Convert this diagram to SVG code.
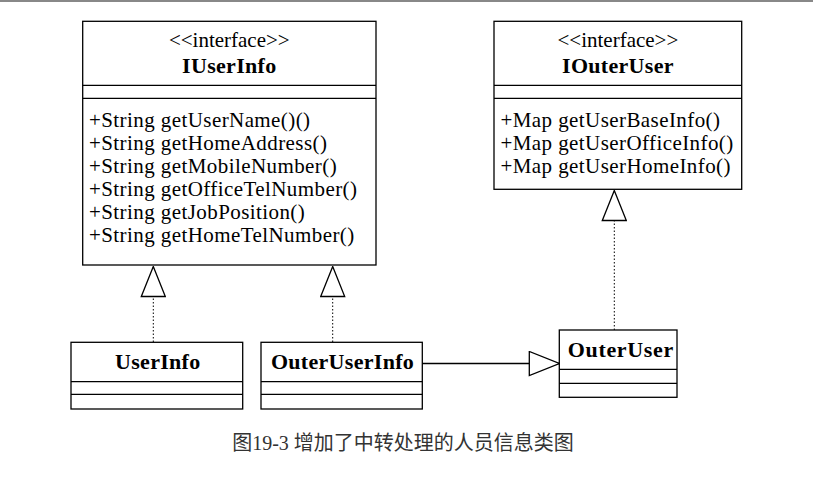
<svg xmlns="http://www.w3.org/2000/svg" width="813" height="483" viewBox="0 0 813 483">
<style>
.box{fill:#fff;stroke:#000;stroke-width:1.3}
.sep{stroke:#000;stroke-width:1.3}
.st{font-family:"Liberation Serif","Times New Roman",serif;font-size:21px;fill:#000;text-anchor:middle}
.nm{font-family:"Liberation Serif","Times New Roman",serif;font-size:22px;font-weight:bold;fill:#000;text-anchor:middle;letter-spacing:0.3px}
.m{font-family:"Liberation Serif","Times New Roman",serif;font-size:21px;fill:#000;letter-spacing:0.42px}
.dot{fill:none;stroke:#000;stroke-width:1;stroke-dasharray:1.5 2}
.sol{fill:none;stroke:#000;stroke-width:1.3}
.cap{font-family:"Liberation Serif","Noto Sans CJK SC",serif;font-size:20px;fill:#333;text-anchor:middle}
</style>
<defs>
<marker id="tri" markerUnits="userSpaceOnUse" viewBox="-1 -1 32 26" refX="30" refY="12" markerWidth="32" markerHeight="26" orient="auto">
<path d="M0,0 L30,12 L0,24 Z" fill="#fff" stroke="#000" stroke-width="1.3"/>
</marker>
</defs>
<rect x="0" y="0" width="813" height="2" fill="#888"/>
<g id="IUserInfo">
<rect class="box" x="82.7" y="21.3" width="293.3" height="243.7"/>
<line class="sep" x1="82.7" y1="85.3" x2="376" y2="85.3"/>
<line class="sep" x1="82.7" y1="98.3" x2="376" y2="98.3"/>
<text class="st" x="229.3" y="47">&lt;&lt;interface&gt;&gt;</text>
<text class="nm" x="229.3" y="73.3">IUserInfo</text>
<text class="m" x="89" y="127">+String getUserName()()</text>
<text class="m" x="89" y="150">+String getHomeAddress()</text>
<text class="m" x="89" y="173">+String getMobileNumber()</text>
<text class="m" x="89" y="196">+String getOfficeTelNumber()</text>
<text class="m" x="89" y="219">+String getJobPosition()</text>
<text class="m" x="89" y="242">+String getHomeTelNumber()</text>
</g>
<g id="IOuterUser">
<rect class="box" x="494" y="21.3" width="247.7" height="168"/>
<line class="sep" x1="494" y1="85.3" x2="741.7" y2="85.3"/>
<line class="sep" x1="494" y1="98.3" x2="741.7" y2="98.3"/>
<text class="st" x="617.9" y="47">&lt;&lt;interface&gt;&gt;</text>
<text class="nm" x="617.9" y="73.3">IOuterUser</text>
<text class="m" x="500.5" y="127">+Map getUserBaseInfo()</text>
<text class="m" x="500.5" y="150">+Map getUserOfficeInfo()</text>
<text class="m" x="500.5" y="173">+Map getUserHomeInfo()</text>
</g>
<g id="UserInfo">
<rect class="box" x="71" y="342.3" width="171.7" height="66.7"/>
<line class="sep" x1="71" y1="381.7" x2="242.7" y2="381.7"/>
<line class="sep" x1="71" y1="394.3" x2="242.7" y2="394.3"/>
<text class="nm" x="157.8" y="369.3">UserInfo</text>
</g>
<g id="OuterUserInfo">
<rect class="box" x="261" y="342.3" width="161.3" height="66.7"/>
<line class="sep" x1="261" y1="381.7" x2="422.3" y2="381.7"/>
<line class="sep" x1="261" y1="394.3" x2="422.3" y2="394.3"/>
<text class="nm" x="342.5" y="369.3">OuterUserInfo</text>
</g>
<g id="OuterUser">
<rect class="box" x="559.3" y="330" width="117.7" height="67.3"/>
<line class="sep" x1="559.3" y1="369.3" x2="677" y2="369.3"/>
<line class="sep" x1="559.3" y1="383.3" x2="677" y2="383.3"/>
<text class="nm" x="567.7" y="356.7" style="text-anchor:start;letter-spacing:0" textLength="105.5" lengthAdjust="spacing">OuterUser</text>
</g>
<g id="connectors">
<path class="dot" d="M153.3,342 L153.3,266.5" marker-end="url(#tri)"/>
<path class="dot" d="M332.7,342 L332.7,266.5" marker-end="url(#tri)"/>
<path class="dot" d="M614.3,330 L614.3,190.5" marker-end="url(#tri)"/>
<path class="sol" d="M422.3,363.5 L559.3,363.5" marker-end="url(#tri)"/>
</g>
<text class="cap" x="403" y="450">图19-3 增加了中转处理的人员信息类图</text>
</svg>
